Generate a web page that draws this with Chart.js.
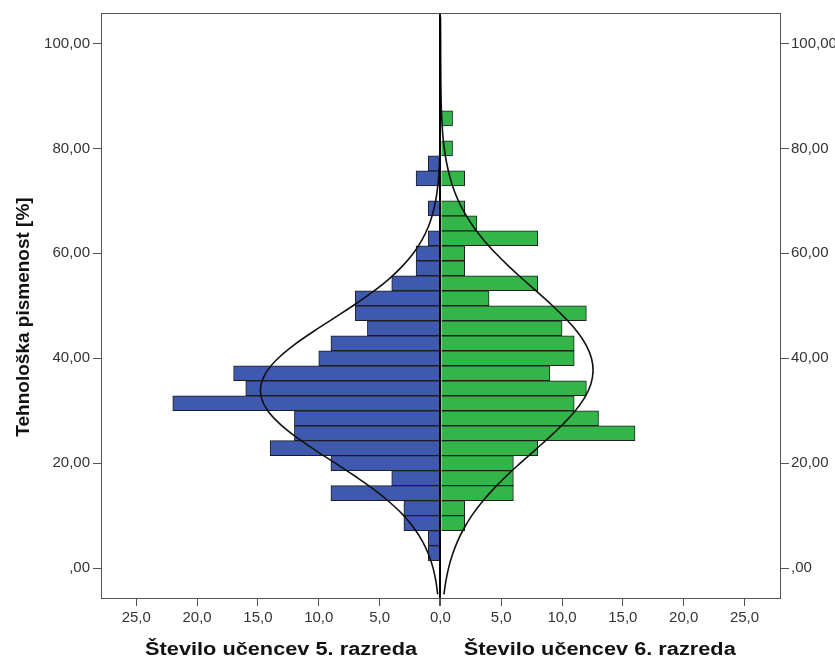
<!DOCTYPE html>
<html lang="sl">
<head>
<meta charset="UTF-8">
<title>Tehnološka pismenost - 5. in 6. razred</title>
<script src="https://cdn.jsdelivr.net/npm/chart.js@4.4.0/dist/chart.umd.min.js"></script>
<style>
    html, body {
        margin: 0;
        padding: 0;
        background: #fff;
    }
    .chart-container {
        position: relative;
        width: 835px;
        height: 659px;
    }
</style>
</head>
<body>
<div class="chart-container">
    <canvas id="pyramid"></canvas>
</div>
<script>
    // score bins (Tehnološka pismenost [%]) - bin centres
    const binScores = [2.86, 5.71, 8.57, 11.43, 14.29, 17.14, 20.00, 22.86, 25.71, 28.57,
                       31.43, 34.29, 37.14, 40.00, 42.86, 45.71, 48.57, 51.43, 54.29, 57.14,
                       60.00, 62.86, 65.71, 68.57, 71.43, 74.29, 77.14, 80.00, 82.86, 85.71];
    // number of pupils per bin
    const grade5Counts = [1, 1, 3, 3, 9, 4, 9, 14, 12, 12,
                          22, 16, 17, 10, 9, 6, 7, 7, 4, 2,
                          2, 1, 0, 1, 0, 2, 1, 0, 0, 0];
    const grade6Counts = [0, 0, 2, 2, 6, 6, 6, 8, 16, 13,
                          11, 12, 9, 11, 11, 10, 12, 4, 8, 2,
                          2, 8, 3, 2, 0, 2, 0, 1, 0, 1];

    // fitted normal curves
    const curveScores = [-5, -2.5, 0, 2.5, 5, 7.5, 10, 12.5, 15, 17.5,
                         20, 22.5, 25, 27.5, 30, 32.5, 35, 37.5, 40, 42.5,
                         45, 47.5, 50, 52.5, 55, 57.5, 60, 62.5, 65, 67.5,
                         70, 72.5, 75, 77.5, 80, 82.5, 85, 87.5, 90, 92.5,
                         95, 97.5, 100, 102.5, 105];
    const grade5Curve = [0.22, 0.37, 0.60, 0.95, 1.45, 2.13, 3.01, 4.14, 5.47, 7.00,
                         8.64, 10.31, 11.87, 13.20, 14.19, 14.72, 14.75, 14.27, 13.34, 12.05,
                         10.50, 8.84, 7.19, 5.65, 4.28, 3.14, 2.22, 1.52, 1.00, 0.64,
                         0.39, 0.23, 0.13, 0.07, 0.04, 0.02, 0.01, 0, 0, 0,
                         0, 0, 0, 0, 0];
    const grade6Curve = [0.29, 0.45, 0.67, 0.98, 1.39, 1.92, 2.58, 3.39, 4.33, 5.40,
                         6.57, 7.78, 8.99, 10.11, 11.09, 11.86, 12.36, 12.55, 12.42, 11.98,
                         11.27, 10.32, 9.22, 8.03, 6.81, 5.63, 4.54, 3.57, 2.73, 2.04,
                         1.48, 1.05, 0.73, 0.49, 0.32, 0.20, 0.13, 0.08, 0.05, 0.03,
                         0.02, 0.01, 0.01, 0, 0];

    const countTicks = [-25, -20, -15, -10, -5, 0, 5, 10, 15, 20, 25];
    const scoreTicks = [0, 20, 40, 60, 80, 100];

    const yTitle = 'Tehnološka pismenost [%]';
    const leftTitle = 'Število učencev 5. razreda';
    const rightTitle = 'Število učencev 6. razreda';

    const FONT = '"Liberation Sans", Arial, sans-serif';

    function toBars(counts, sign) {
        return binScores
            .map((s, i) => ({x: sign * counts[i], y: s}))
            .filter(p => p.x !== 0);
    }

    function toCurve(values, sign) {
        return curveScores.map((s, i) => ({x: sign * values[i], y: s}));
    }

    function fmtScore(v) {
        return v === 0 ? ',00' : v.toFixed(2).replace('.', ',');
    }

    function fmtCount(v) {
        return Math.abs(v).toFixed(1).replace('.', ',');
    }

    function scoreAxis(position, width, pad) {
        return {
            type: 'linear',
            position: position,
            min: -5.7,
            max: 105.8,
            offset: false,
            afterBuildTicks: axis => { axis.ticks = scoreTicks.map(v => ({value: v})); },
            afterFit: axis => { axis.width = width; },
            border: {display: false},
            grid: {drawOnChartArea: false, offset: false, tickColor: '#555', tickLength: 8},
            ticks: {
                callback: v => fmtScore(v),
                color: '#333',
                padding: pad,
                font: {family: FONT, size: 15}
            }
        };
    }

    // frame + axis titles
    const decorPlugin = {
        id: 'decor',
        afterDraw(chart) {
            const {ctx, chartArea, scales} = chart;
            ctx.save();
            ctx.strokeStyle = '#555';
            ctx.lineWidth = 1;
            ctx.strokeRect(chartArea.left + 0.5, chartArea.top + 0.5,
                           chartArea.right - chartArea.left - 1, chartArea.bottom - chartArea.top);

            ctx.fillStyle = '#111';
            ctx.textAlign = 'center';
            ctx.textBaseline = 'alphabetic';
            ctx.font = 'bold 18px ' + FONT;
            [[leftTitle, -13.1], [rightTitle, 13.1]].forEach(([text, v]) => {
                const cx = scales.x.getPixelForValue(v);
                const sx = 272 / ctx.measureText(text).width;
                ctx.save();
                ctx.translate(cx, 655);
                ctx.scale(sx, 1);
                ctx.fillText(text, 0, 0);
                ctx.restore();
            });

            ctx.font = 'bold 19px ' + FONT;
            ctx.translate(28.5, 317);
            ctx.rotate(-Math.PI / 2);
            ctx.fillText(yTitle, 0, 0);
            ctx.restore();
        }
    };

    new Chart(document.getElementById('pyramid'), {
        type: 'bar',
        data: {
            datasets: [
                {
                    type: 'line',
                    data: toCurve(grade5Curve, -1),
                    borderColor: '#111',
                    borderWidth: 1.6,
                    pointRadius: 0,
                    tension: 0.4,
                    fill: false,
                    order: 0
                },
                {
                    type: 'line',
                    data: toCurve(grade6Curve, 1),
                    borderColor: '#111',
                    borderWidth: 1.6,
                    pointRadius: 0,
                    tension: 0.4,
                    fill: false,
                    order: 0
                },
                {
                    label: '5. razred',
                    data: toBars(grade5Counts, -1),
                    backgroundColor: '#3e59ad',
                    borderColor: '#1e1e1e',
                    borderWidth: 1,
                    grouped: false,
                    barPercentage: 1,
                    categoryPercentage: 1,
                    order: 1
                },
                {
                    label: '6. razred',
                    data: toBars(grade6Counts, 1),
                    backgroundColor: '#33b54a',
                    borderColor: '#1e1e1e',
                    borderWidth: 1,
                    grouped: false,
                    barPercentage: 1,
                    categoryPercentage: 1,
                    order: 1
                }
            ]
        },
        options: {
            indexAxis: 'y',
            responsive: true,
            maintainAspectRatio: false,
            animation: false,
            layout: {padding: {top: 13, left: 0, right: 0, bottom: 0}},
            plugins: {
                legend: {display: false},
                tooltip: {enabled: false}
            },
            scales: {
                x: {
                    type: 'linear',
                    position: 'bottom',
                    min: -27.9,
                    max: 28.0,
                    offset: false,
                    afterBuildTicks: axis => { axis.ticks = countTicks.map(v => ({value: v})); },
                    afterFit: axis => { axis.height = 61; },
                    border: {display: false},
                    grid: {
                        z: 1,
                        offset: false,
                        color: c => (c.tick && c.tick.value === 0) ? '#000' : 'rgba(0,0,0,0)',
                        lineWidth: c => (c.tick && c.tick.value === 0) ? 2 : 1,
                        tickColor: '#555',
                        tickLength: 8
                    },
                    ticks: {
                        callback: v => fmtCount(v),
                        color: '#333',
                        padding: 3,
                        maxRotation: 0,
                        autoSkip: false,
                        font: {family: FONT, size: 15}
                    }
                },
                y: scoreAxis('left', 101, 3),
                y2: scoreAxis('right', 54, 2)
            }
        },
        plugins: [decorPlugin]
    });
</script>
</body>
</html>
